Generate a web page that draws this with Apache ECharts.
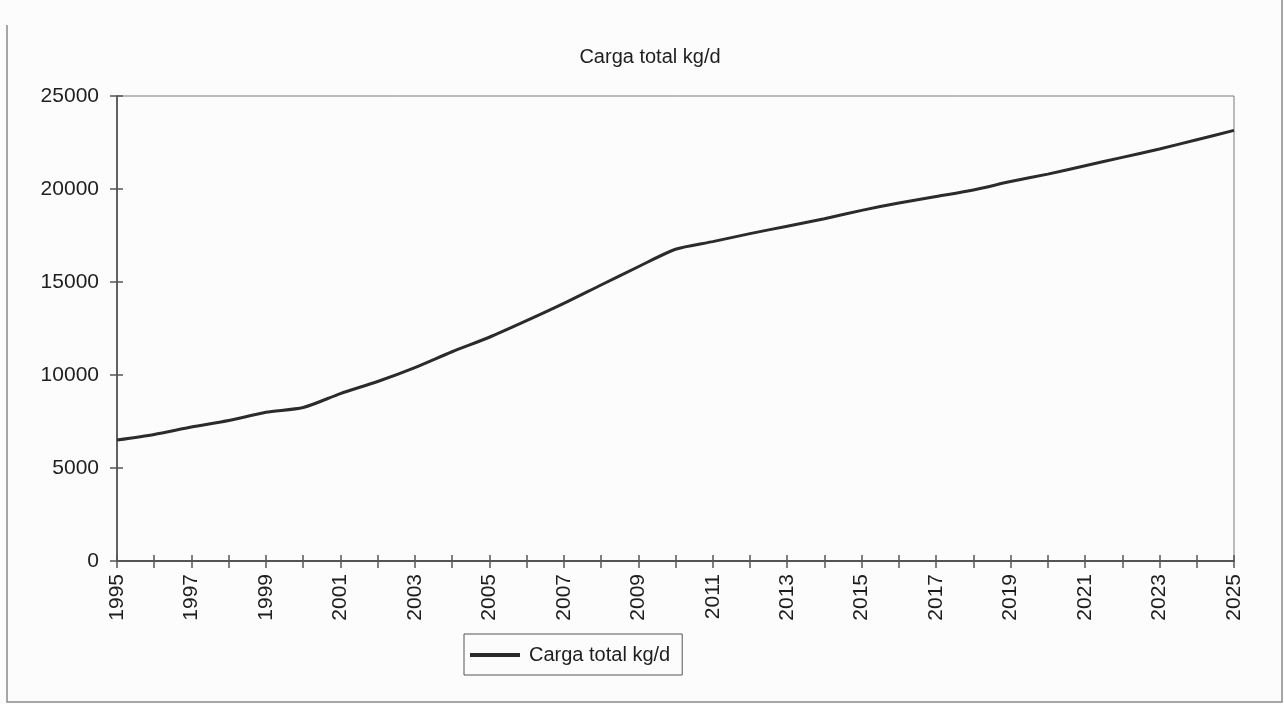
<!DOCTYPE html>
<html>
<head>
<meta charset="utf-8">
<title>Carga total kg/d</title>
<script src="https://cdn.jsdelivr.net/npm/echarts@6/dist/echarts.min.js"></script>
<style>
  html, body { margin: 0; padding: 0; background: #fcfcfc; }
  #chart { width: 1284px; height: 704px; }
</style>
</head>
<body>
<div id="chart"></div>
<script>
// Years on the horizontal axis
const years = ['1995','1996','1997','1998','1999','2000','2001','2002','2003','2004',
  '2005','2006','2007','2008','2009','2010','2011','2012','2013','2014',
  '2015','2016','2017','2018','2019','2020','2021','2022','2023','2024','2025'];

// Total load, kg/d
const carga = [6500, 6800, 7200, 7550, 8000, 8250, 9000, 9650, 10400, 11250,
  12030, 12920, 13850, 14840, 15820, 16760, 17170, 17600, 18000, 18400,
  18850, 19250, 19600, 19950, 20400, 20800, 21250, 21700, 22150, 22650, 23150];

// Value axis ticks
const yTicks = [0, 5000, 10000, 15000, 20000, 25000];

const seriesName = 'Carga total kg/d';
const font = '"Liberation Sans", Arial, sans-serif';
const ink = '#1e1e1e';

const chart = echarts.init(document.getElementById('chart'), null, { renderer: 'canvas' });

const yMin = yTicks[0];
const yMax = yTicks[yTicks.length - 1];
const yStep = yTicks[1] - yTicks[0];

chart.setOption({
  backgroundColor: '#fcfcfc',
  animation: false,
  title: {
    text: seriesName,
    left: 645,
    textAlign: 'center',
    top: 42,
    textStyle: { fontFamily: font, fontSize: 20, fontWeight: 'normal', color: ink }
  },
  legend: {
    data: [seriesName],
    left: 464,
    top: 634,
    orient: 'horizontal',
    icon: 'rect',
    itemWidth: 50,
    itemHeight: 4,
    itemGap: 0,
    padding: [11, 12, 10, 6],
    borderColor: '#555',
    borderWidth: 1,
    borderRadius: 0,
    textStyle: { fontFamily: font, fontSize: 20, color: ink, padding: [0, 0, 0, 4] }
  },
  grid: {
    left: 117,
    right: 50,
    top: 96,
    bottom: 143,
    show: true,
    borderColor: '#7a7a7a',
    borderWidth: 1,
    backgroundColor: 'transparent'
  },
  xAxis: [
    {
      type: 'category',
      data: years,
      boundaryGap: false,
      axisLine: { show: true, lineStyle: { color: '#555', width: 2 } },
      axisTick: { show: true, interval: 0, length: 7, inside: false, lineStyle: { color: '#555', width: 1.5 } },
      axisLabel: {
        interval: 1, rotate: 90, margin: 13,
        fontFamily: font, fontSize: 21, color: ink
      },
      splitLine: { show: false }
    },
    {
      type: 'category',
      data: years,
      boundaryGap: false,
      position: 'bottom',
      axisLine: { show: false },
      axisTick: { show: true, interval: 0, length: 6, inside: true, lineStyle: { color: '#555', width: 1.5 } },
      axisLabel: { show: false },
      splitLine: { show: false }
    }
  ],
  yAxis: [
    {
      type: 'value',
      min: yMin, max: yMax, interval: yStep,
      axisLine: { show: true, lineStyle: { color: '#444', width: 1.5 } },
      axisTick: { show: true, length: 7, inside: false, lineStyle: { color: '#555', width: 1.5 } },
      axisLabel: {
        margin: 18, fontFamily: font, fontSize: 21, color: ink,
        formatter: (v) => String(v)
      },
      splitLine: { show: false }
    },
    {
      type: 'value',
      min: yMin, max: yMax, interval: yStep,
      position: 'left',
      axisLine: { show: false },
      axisTick: { show: true, length: 6, inside: true, lineStyle: { color: '#555', width: 1.5 } },
      axisLabel: { show: false },
      splitLine: { show: false }
    }
  ],
  series: [
    {
      name: seriesName,
      type: 'line',
      xAxisIndex: 0,
      yAxisIndex: 0,
      data: carga,
      smooth: 0.25,
      showSymbol: false,
      symbol: 'none',
      lineStyle: { color: '#2b2b2b', width: 3 },
      itemStyle: { color: '#2b2b2b' }
    }
  ],
  graphic: [
    {
      // outer frame of the page area
      type: 'polyline',
      silent: true,
      shape: { points: [[7, 25], [7, 702], [1282, 702], [1282, 0]] },
      style: { stroke: '#8a8a8a', lineWidth: 1.5, fill: null }
    }
  ]
});
</script>
</body>
</html>
